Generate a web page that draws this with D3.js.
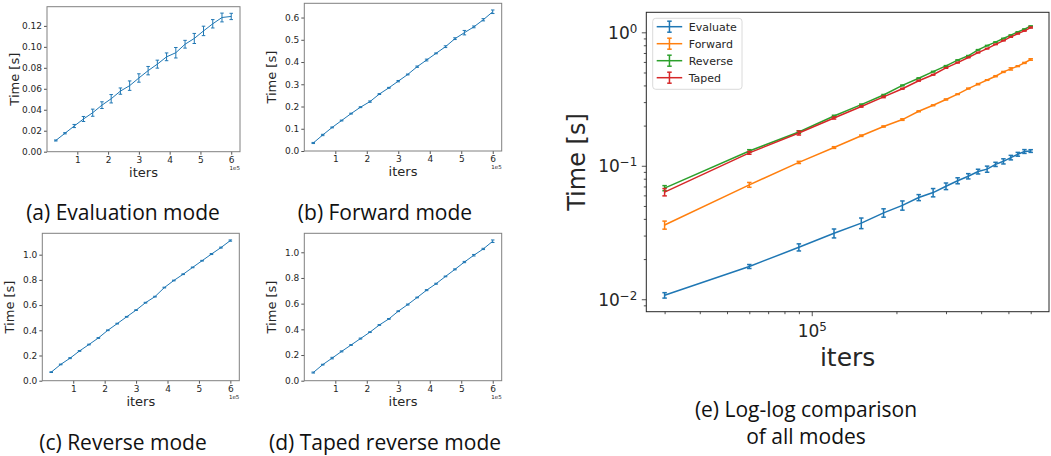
<!DOCTYPE html>
<html>
<head>
<meta charset="utf-8">
<script src="https://cdn.jsdelivr.net/npm/d3@7"></script>
<style>
  body { margin: 0; background: #fff; }
  svg { display: block; }
</style>
</head>
<body>
<svg id="fig" width="1051" height="456"></svg>
<script>
// ---- data ----
var iters = [30000, 60000, 90000, 120000, 150000, 180000, 210000, 240000, 270000, 300000,
             330000, 360000, 390000, 420000, 450000, 480000, 510000, 540000, 570000, 600000];

var evaluateTime = [0.0107, 0.0176, 0.0245, 0.0312, 0.0372, 0.0444, 0.0505, 0.0578, 0.0630, 0.0703,
                    0.0773, 0.0835, 0.0905, 0.0944, 0.1025, 0.1080, 0.1152, 0.1220, 0.1280, 0.1290];
var evaluateErr  = [0.0005, 0.0006, 0.0015, 0.0024, 0.0034, 0.0032, 0.0040, 0.0030, 0.0045, 0.0040,
                    0.0040, 0.0038, 0.0037, 0.0050, 0.0037, 0.0048, 0.0045, 0.0040, 0.0042, 0.0030];

var forwardTime = [0.036, 0.072, 0.106, 0.137, 0.168, 0.197, 0.222, 0.256, 0.284, 0.314,
                   0.344, 0.379, 0.409, 0.439, 0.469, 0.505, 0.532, 0.558, 0.590, 0.626];
var forwardErr  = [0.0025, 0.003, 0.002, 0.002, 0.002, 0.002, 0.003, 0.002, 0.002, 0.003,
                   0.002, 0.003, 0.004, 0.002, 0.004, 0.004, 0.010, 0.004, 0.005, 0.008];

var reverseTime = [0.068, 0.129, 0.179, 0.236, 0.287, 0.339, 0.400, 0.453, 0.507, 0.560,
                   0.619, 0.667, 0.739, 0.795, 0.845, 0.899, 0.952, 1.005, 1.056, 1.112];
var reverseErr  = [0.003, 0.003, 0.004, 0.003, 0.003, 0.003, 0.003, 0.003, 0.003, 0.003,
                   0.003, 0.003, 0.003, 0.003, 0.003, 0.003, 0.003, 0.004, 0.004, 0.005];

var tapedTime = [0.0635, 0.125, 0.176, 0.228, 0.278, 0.328, 0.378, 0.434, 0.481, 0.541,
                 0.593, 0.648, 0.705, 0.755, 0.812, 0.867, 0.924, 0.977, 1.026, 1.086];
var tapedErr  = [0.004, 0.003, 0.006, 0.004, 0.003, 0.004, 0.003, 0.003, 0.003, 0.003,
                 0.004, 0.003, 0.004, 0.004, 0.003, 0.004, 0.005, 0.006, 0.005, 0.010];

var seriesNames = ['Evaluate', 'Forward', 'Reverse', 'Taped'];
var seriesColors = ['#1f77b4', '#ff7f0e', '#2ca02c', '#d62728'];

var xTicks = [100000, 200000, 300000, 400000, 500000, 600000];
var yTicksA = [0, 0.02, 0.04, 0.06, 0.08, 0.10, 0.12];
var yTicksB = [0, 0.1, 0.2, 0.3, 0.4, 0.5, 0.6];
var yTicksC = [0, 0.2, 0.4, 0.6, 0.8, 1.0];
var logYTicks = [-2, -1, 0];
var logXTicks = [5];

var captions = ['(a) Evaluation mode', '(b) Forward mode', '(c) Reverse mode', '(d) Taped reverse mode'];
var captionE = ['(e) Log-log comparison', 'of all modes'];

// ---- layout ----
var config = {
  plotFont: 'DejaVu Sans, sans-serif',
  captionFont: 'Open Sans, sans-serif',
  textColor: '#262626',
  smallTickFont: 9,
  smallLabelFont: 13,
  captionSize: 21,
  bigTickFont: 17,
  bigLabelFont: 25,
  legendFont: 11,
};

var smallPanels = [
  {left: 47, right: 240, top: 6.7, bottom: 151.7, t: evaluateTime, e: evaluateErr, ticks: yTicksA, fmt: '.2f', capX: 123, capY: 219.5},
  {left: 304.3, right: 501.7, top: 3.3, bottom: 151, t: forwardTime, e: forwardErr, ticks: yTicksB, fmt: '.1f', capX: 385, capY: 219.5},
  {left: 42.3, right: 239.3, top: 233.3, bottom: 380.7, t: reverseTime, e: reverseErr, ticks: yTicksC, fmt: '.1f', capX: 123, capY: 450},
  {left: 304.3, right: 501.7, top: 233.3, bottom: 380.7, t: tapedTime, e: tapedErr, ticks: yTicksC, fmt: '.1f', capX: 385, capY: 450},
];

var svg = d3.select('#fig');

function styleAxis(g, size) {
  g.select('.domain').remove();
  g.selectAll('.tick line').attr('stroke', config.textColor).attr('stroke-width', 0.8);
  g.selectAll('.tick text')
    .attr('fill', config.textColor)
    .attr('font-family', config.plotFont)
    .attr('font-size', size + 'px');
}

function drawErrorBars(g, xs, ys, x, y, t, e, color, capW, lw) {
  g.append('path')
    .attr('d', d3.line().x(function(d, i) { return x(xs[i]); }).y(function(d) { return y(d); })(t))
    .attr('fill', 'none')
    .attr('stroke', color)
    .attr('stroke-width', lw);
  t.forEach(function(v, i) {
    var px = x(xs[i]);
    var y0 = y(v - e[i]), y1 = y(v + e[i]);
    g.append('line').attr('x1', px).attr('x2', px).attr('y1', y0).attr('y2', y1)
      .attr('stroke', color).attr('stroke-width', lw);
    [y0, y1].forEach(function(yy) {
      g.append('line').attr('x1', px - capW / 2).attr('x2', px + capW / 2).attr('y1', yy).attr('y2', yy)
        .attr('stroke', color).attr('stroke-width', lw);
    });
  });
}

// ---- four small linear panels ----
var xSpan = d3.max(iters) - d3.min(iters);
smallPanels.forEach(function(p, k) {
  var hi = d3.max(p.t, function(v, i) { return v + p.e[i]; });
  var lo = d3.min(p.t, function(v, i) { return v - p.e[i]; });
  var x = d3.scaleLinear()
    .domain([d3.min(iters) - 0.05 * xSpan, d3.max(iters) + 0.05 * xSpan])
    .range([p.left, p.right]);
  var y = d3.scaleLinear()
    .domain([0, hi + 0.05 * (hi - lo)])
    .range([p.bottom, p.top]);

  var gx = svg.append('g')
    .attr('transform', 'translate(0,' + p.bottom + ')')
    .call(d3.axisBottom(x).tickValues(xTicks).tickSize(3).tickPadding(2)
      .tickFormat(function(d) { return d / 1e5; }));
  styleAxis(gx, config.smallTickFont);

  var gy = svg.append('g')
    .attr('transform', 'translate(' + p.left + ',0)')
    .call(d3.axisLeft(y).tickValues(p.ticks).tickSize(3).tickPadding(2).tickFormat(d3.format(p.fmt)));
  styleAxis(gy, config.smallTickFont);

  svg.append('rect')
    .attr('x', p.left).attr('y', p.top)
    .attr('width', p.right - p.left).attr('height', p.bottom - p.top)
    .attr('fill', 'none').attr('stroke', '#808080').attr('stroke-width', 1);

  drawErrorBars(svg.append('g'), iters, p.t, x, y, p.t, p.e, seriesColors[0], 3.5, 1);

  svg.append('text')
    .attr('x', p.right).attr('y', p.bottom + 18)
    .attr('text-anchor', 'end')
    .attr('font-family', config.plotFont).attr('font-size', '5.5px')
    .attr('fill', config.textColor)
    .text('1e5');

  svg.append('text')
    .attr('x', (p.left + p.right) / 2).attr('y', p.bottom + 25)
    .attr('text-anchor', 'middle')
    .attr('font-family', config.plotFont).attr('font-size', config.smallLabelFont + 'px')
    .attr('fill', config.textColor)
    .text('iters');

  svg.append('text')
    .attr('transform', 'translate(' + (p.left - 28.5) + ',' + ((p.top + p.bottom) / 2) + ') rotate(-90)')
    .attr('text-anchor', 'middle')
    .attr('font-family', config.plotFont).attr('font-size', config.smallLabelFont + 'px')
    .attr('fill', config.textColor)
    .text('Time [s]');

  svg.append('text')
    .attr('x', p.capX).attr('y', p.capY)
    .attr('text-anchor', 'middle')
    .attr('font-family', config.captionFont).attr('font-size', config.captionSize + 'px')
    .attr('fill', '#111')
    .text(captions[k]);
});

// ---- log-log panel ----
var E = {left: 646.3, right: 1049, top: 12.3, bottom: 311.7};
var allT = [evaluateTime, forwardTime, reverseTime, tapedTime];
var allE = [evaluateErr, forwardErr, reverseErr, tapedErr];

var lx0 = Math.log10(d3.min(iters)), lx1 = Math.log10(d3.max(iters));
var xL = d3.scaleLog()
  .domain([Math.pow(10, lx0 - 0.05 * (lx1 - lx0)), Math.pow(10, lx1 + 0.05 * (lx1 - lx0))])
  .range([E.left, E.right]);
var ly0 = Math.log10(d3.min(allT.map(function(t, s) { return d3.min(t, function(v, i) { return v - allE[s][i]; }); })));
var ly1 = Math.log10(d3.max(allT.map(function(t, s) { return d3.max(t, function(v, i) { return v + allE[s][i]; }); })));
var yL = d3.scaleLog()
  .domain([Math.pow(10, ly0 - 0.05 * (ly1 - ly0)), Math.pow(10, ly1 + 0.05 * (ly1 - ly0))])
  .range([E.bottom, E.top]);

function minorTicks(domain) {
  var out = [];
  for (var p = -4; p <= 7; p++) {
    for (var m = 2; m <= 9; m++) {
      var v = m * Math.pow(10, p);
      if (v >= domain[0] && v <= domain[1]) out.push(v);
    }
  }
  return out;
}

var gxMinor = svg.append('g').attr('transform', 'translate(0,' + E.bottom + ')')
  .call(d3.axisBottom(xL).tickValues(minorTicks(xL.domain())).tickSize(2.5).tickFormat(function() { return ''; }));
styleAxis(gxMinor, 10);
var gyMinor = svg.append('g').attr('transform', 'translate(' + E.left + ',0)')
  .call(d3.axisLeft(yL).tickValues(minorTicks(yL.domain())).tickSize(2.5).tickFormat(function() { return ''; }));
styleAxis(gyMinor, 10);

var gxMajor = svg.append('g').attr('transform', 'translate(0,' + E.bottom + ')')
  .call(d3.axisBottom(xL).tickValues(logXTicks.map(function(p) { return Math.pow(10, p); })).tickSize(4.5).tickFormat(function() { return ''; }));
styleAxis(gxMajor, 10);
gxMajor.selectAll('.tick').each(function(d) {
  var t = d3.select(this).append('text')
    .attr('y', 25).attr('text-anchor', 'middle')
    .attr('font-family', config.plotFont).attr('font-size', config.bigTickFont + 'px')
    .attr('fill', config.textColor);
  t.append('tspan').text('10');
  t.append('tspan').attr('dy', '-0.5em').attr('font-size', '0.7em').text(Math.round(Math.log10(d)));
});

var gyMajor = svg.append('g').attr('transform', 'translate(' + E.left + ',0)')
  .call(d3.axisLeft(yL).tickValues(logYTicks.map(function(p) { return Math.pow(10, p); })).tickSize(4.5).tickFormat(function() { return ''; }));
styleAxis(gyMajor, 10);
gyMajor.selectAll('.tick').each(function(d) {
  var e = Math.round(Math.log10(d));
  var t = d3.select(this).append('text')
    .attr('x', -9).attr('y', 6).attr('text-anchor', 'end')
    .attr('font-family', config.plotFont).attr('font-size', config.bigTickFont + 'px')
    .attr('fill', config.textColor);
  t.append('tspan').text('10');
  t.append('tspan').attr('dy', '-0.5em').attr('font-size', '0.7em').text(e < 0 ? '\u2212' + (-e) : e);
});

svg.append('rect')
  .attr('x', E.left).attr('y', E.top)
  .attr('width', E.right - E.left).attr('height', E.bottom - E.top)
  .attr('fill', 'none').attr('stroke', '#262626').attr('stroke-width', 1);

allT.forEach(function(t, s) {
  drawErrorBars(svg.append('g'), iters, t, xL, yL, t, allE[s], seriesColors[s], 4.5, 1.5);
});

// legend
var leg = svg.append('g').attr('transform', 'translate(652.7,18.3)');
leg.append('rect')
  .attr('width', 89.3).attr('height', 71).attr('rx', 3)
  .attr('fill', '#fff').attr('fill-opacity', 0.8)
  .attr('stroke', '#d0d0d0').attr('stroke-width', 0.8);
seriesNames.forEach(function(name, i) {
  var yy = 8.4 + i * 17;
  var row = leg.append('g').attr('transform', 'translate(0,' + yy + ')');
  row.append('line').attr('x1', 4).attr('x2', 29.5).attr('y1', 0).attr('y2', 0)
    .attr('stroke', seriesColors[i]).attr('stroke-width', 1.5);
  row.append('line').attr('x1', 16.75).attr('x2', 16.75).attr('y1', -5.5).attr('y2', 5.5)
    .attr('stroke', seriesColors[i]).attr('stroke-width', 1.5);
  [-5.5, 5.5].forEach(function(c) {
    row.append('line').attr('x1', 14.5).attr('x2', 19).attr('y1', c).attr('y2', c)
      .attr('stroke', seriesColors[i]).attr('stroke-width', 1.5);
  });
  row.append('text').attr('x', 36).attr('y', 4)
    .attr('font-family', config.plotFont).attr('font-size', config.legendFont + 'px')
    .attr('fill', config.textColor)
    .text(name);
});

svg.append('text')
  .attr('x', (E.left + E.right) / 2).attr('y', 365.5)
  .attr('text-anchor', 'middle')
  .attr('font-family', config.plotFont).attr('font-size', config.bigLabelFont + 'px')
  .attr('fill', config.textColor)
  .text('iters');

svg.append('text')
  .attr('transform', 'translate(585,' + ((E.top + E.bottom) / 2) + ') rotate(-90)')
  .attr('text-anchor', 'middle')
  .attr('font-family', config.plotFont).attr('font-size', '24px')
  .attr('fill', config.textColor)
  .text('Time [s]');

captionE.forEach(function(line, i) {
  svg.append('text')
    .attr('x', 806).attr('y', 417 + i * 27)
    .attr('text-anchor', 'middle')
    .attr('font-family', config.captionFont).attr('font-size', config.captionSize + 'px')
    .attr('fill', '#111')
    .text(line);
});
</script>
</body>
</html>
